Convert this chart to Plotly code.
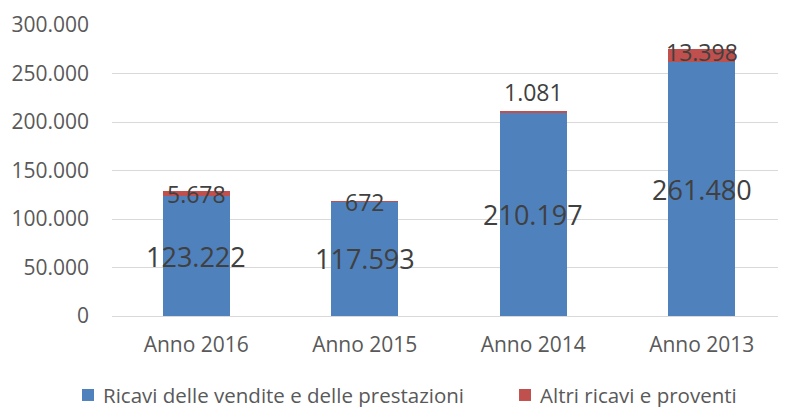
import plotly.graph_objects as go

categories = ["Anno 2016", "Anno 2015", "Anno 2014", "Anno 2013"]
ricavi_vendite = [123222, 117593, 210197, 261480]
altri_ricavi = [5678, 672, 1081, 13398]
altri_label_shift = [0, 0, 20, 4]
tick_vals = [0, 50000, 100000, 150000, 200000, 250000, 300000]
tick_text = ["0", "50.000", "100.000", "150.000", "200.000", "250.000", "300.000"]
series_names = ["Ricavi delle vendite e delle prestazioni", "Altri ricavi e proventi"]

def it(v):
    return f"{v:,}".replace(",", ".")

BLUE = "#4F81BD"
RED = "#C0504D"
FONT = "Open Sans"
colors = [BLUE, RED]

fig = go.Figure()
fig.add_trace(go.Bar(x=categories, y=ricavi_vendite, name=series_names[0], showlegend=False,
                     marker=dict(color=BLUE, line=dict(width=0))))
fig.add_trace(go.Bar(x=categories, y=altri_ricavi, name=series_names[1], showlegend=False,
                     marker=dict(color=RED, line=dict(width=0))))

ann = []
for c, b, r, s in zip(categories, ricavi_vendite, altri_ricavi, altri_label_shift):
    ann.append(dict(x=c, y=b / 2, text=it(b), showarrow=False, xref="x", yref="y",
                    font=dict(family=FONT, size=27, color="#404040")))
    ann.append(dict(x=c, y=b + r / 2, text=it(r), showarrow=False, xref="x", yref="y", yshift=s,
                    font=dict(family=FONT, size=23, color="#404040")))

# manual legend (paper coordinates)
shapes = []
leg_sq_x = [(-0.0445, -0.0267), (0.6039, 0.6217)]
leg_txt_x = [-0.0163, 0.6320]
for name, col, (x0, x1), tx in zip(series_names, colors, leg_sq_x, leg_txt_x):
    shapes.append(dict(type="rect", xref="paper", yref="paper", x0=x0, x1=x1, y0=-0.2920, y1=-0.2508,
                       fillcolor=col, line=dict(width=0)))
    ann.append(dict(x=tx, y=-0.2714, xref="paper", yref="paper", text=name, showarrow=False,
                    xanchor="left", yanchor="middle",
                    font=dict(family=FONT, size=20.5, color="#595959")))

fig.update_layout(
    width=778, height=399,
    margin=dict(l=104, r=0, t=17, b=91),
    barmode="stack", bargap=0.6,
    paper_bgcolor="white", plot_bgcolor="white",
    font=dict(family=FONT, size=21, color="#595959"),
    annotations=ann, shapes=shapes,
    showlegend=False,
    xaxis=dict(showgrid=False, showline=False, ticks="", automargin=False, ticklabelstandoff=14,
               tickfont=dict(size=21, color="#595959")),
    yaxis=dict(range=[0, 300000], tickvals=tick_vals, ticktext=tick_text, showgrid=True,
               gridcolor="#D9D9D9", gridwidth=1.3, zeroline=True, zerolinecolor="#D9D9D9",
               zerolinewidth=1.3, showline=False, ticks="", ticklabelstandoff=22, automargin=False,
               tickfont=dict(size=21, color="#595959")),
)
fig.write_html("out.html")
